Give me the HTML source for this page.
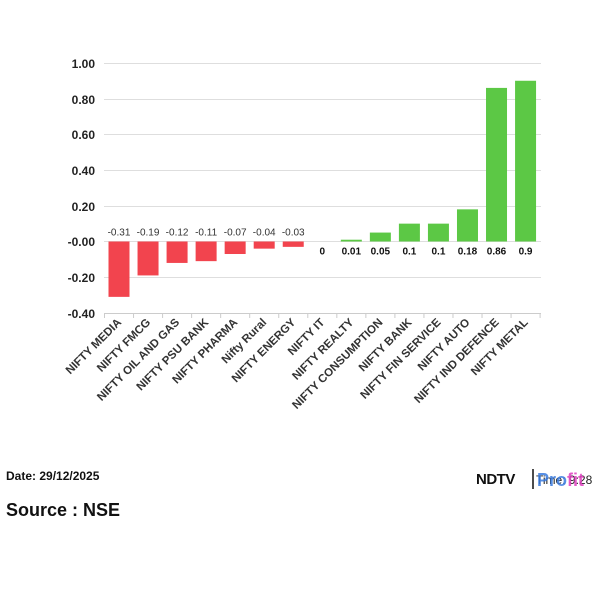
<!DOCTYPE html>
<html><head><meta charset="utf-8"><style>
body{margin:0;background:#fff;width:600px;height:600px;overflow:hidden;font-family:"Liberation Sans",Arial,sans-serif}
</style></head><body>
<svg width="600" height="600" xmlns="http://www.w3.org/2000/svg" font-family="Liberation Sans, Arial, sans-serif">
<g stroke="#dedede" stroke-width="1">
<line x1="104" x2="541" y1="63.5" y2="63.5"/>
<line x1="104" x2="541" y1="99.5" y2="99.5"/>
<line x1="104" x2="541" y1="134.5" y2="134.5"/>
<line x1="104" x2="541" y1="170.5" y2="170.5"/>
<line x1="104" x2="541" y1="206.5" y2="206.5"/>
<line x1="104" x2="541" y1="241.5" y2="241.5"/>
<line x1="104" x2="541" y1="277.5" y2="277.5"/>
</g>
<line x1="104" x2="541" y1="313.5" y2="313.5" stroke="#cccccc"/>
<g font-size="12" font-weight="bold" fill="#222" text-anchor="end">
<text x="95" y="68">1.00</text>
<text x="95" y="104">0.80</text>
<text x="95" y="139">0.60</text>
<text x="95" y="175">0.40</text>
<text x="95" y="211">0.20</text>
<text x="95" y="246">-0.00</text>
<text x="95" y="282">-0.20</text>
<text x="95" y="318">-0.40</text>
</g>
<g id="bars"></g>
<g id="ticks" stroke="#cccccc"></g>
<g id="vals" font-size="10" text-anchor="middle"></g>
<g id="labs" font-size="11.5" font-weight="bold" fill="#333" text-anchor="end"></g>
<text x="6" y="480" font-size="12" font-weight="bold" fill="#111">Date: 29/12/2025</text>
<text x="6" y="516" font-size="18" font-weight="bold" fill="#111">Source : NSE</text>
<text x="476" y="484" font-size="15" font-weight="900" fill="#111" letter-spacing="-0.5">NDTV</text>
<line x1="533" x2="533" y1="469" y2="489" stroke="#111" stroke-width="1.5"/>
<text x="536" y="484" font-size="12" fill="#222">Time: 9:28</text>
<text x="537" y="486" font-size="18" font-weight="bold" fill="#3a7ce0" opacity="0.85">Pro<tspan fill="#e040c0">fit</tspan></text>
</svg>
<script>
var d=[["NIFTY MEDIA",-0.31],["NIFTY FMCG",-0.19],["NIFTY OIL AND GAS",-0.12],["NIFTY PSU BANK",-0.11],["NIFTY PHARMA",-0.07],["Nifty Rural",-0.04],["NIFTY ENERGY",-0.03],["NIFTY IT",0],["NIFTY REALTY",0.01],["NIFTY CONSUMPTION",0.05],["NIFTY BANK",0.1],["NIFTY FIN SERVICE",0.1],["NIFTY AUTO",0.18],["NIFTY IND DEFENCE",0.86],["NIFTY METAL",0.9]];
var ns="http://www.w3.org/2000/svg",z=241.5,u=178.6,w=29.04,x0=104.5;
function el(p,t,a,tx){var e=document.createElementNS(ns,t);for(var k in a)e.setAttribute(k,a[k]);if(tx!=null)e.textContent=tx;document.getElementById(p).appendChild(e);}
d.forEach(function(r,i){var c=119+w*i,v=r[1],h=Math.abs(v)*u;
if(v!=0)el("bars","rect",{x:c-10.5,y:v>0?z-h:z,width:21,height:h,fill:v>0?"#5cc845":"#f2444e"});
if(v<0)el("vals","text",{x:c,y:z-6,fill:"#333"},String(v));
else el("vals","text",{x:c,y:z+13,fill:"#111","font-weight":"bold"},String(v));
el("labs","text",{x:c+3,y:323,transform:"rotate(-45 "+(c+3)+" 323)"},r[0]);
});
for(var i=0;i<=15;i++){var xx=x0+w*i;el("ticks","line",{x1:xx,x2:xx,y1:313,y2:318});}
</script>
</body></html>
